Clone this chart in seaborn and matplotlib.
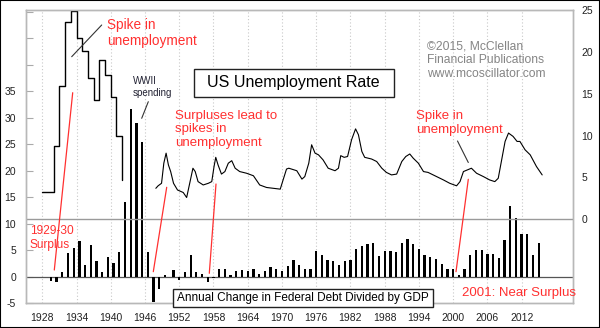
import matplotlib
matplotlib.use("Agg")
import matplotlib.pyplot as plt
from matplotlib.lines import Line2D
from matplotlib.patches import Rectangle
import pandas as pd
import seaborn as sns

# ---------------- data ----------------
# Annual change in federal debt / GDP (%), fiscal years 1929-1949
early_debt_years = list(range(1929, 1950))
early_debt = [-0.9, -1.0, 0.8, 4.5, 5.3, 6.7, 2.2, 6.0, 2.9, 0.8, 3.6, 2.5, 4.7,
              14.1, 31.7, 28.9, 25.3, 4.7, -4.8, -2.3, 0.2]
# calendar years 1951-2015
late_debt_years = list(range(1951, 2016))
late_debt = [1.25, -0.6, 0.8, 4.1, 0.8, 0.5, -1.1, -0.3, 1.5, 1.4, 0.25, 0.95,
             1.3, 1.1, 1.4, 0.4, 1.0, 1.75, 1.5, 1.0, 1.9, 3.1, 2.1, 1.5, 1.5,
             4.9, 4.1, 3.1, 2.9, 2.1, 2.9, 3.1, 5.1, 5.7, 6.1, 6.4, 3.9, 4.8,
             4.8, 4.6, 6.4, 7.1, 6.1, 5.1, 4.1, 3.6, 3.25, 2.3, 1.4, 1.5, 0.3,
             1.4, 4.0, 5.0, 5.0, 4.25, 4.25, 3.5, 6.9, 13.25, 11.1, 8.0, 8.0,
             4.1, 6.4]

# Annual unemployment rate 1928-1942 (%)
annual_rate_years = list(range(1928, 1943))
annual_rate = [3.2, 3.2, 8.7, 15.9, 23.6, 24.9, 21.7, 20.1, 16.9, 14.3, 19.0,
               17.2, 14.6, 9.9, 4.7]

# Monthly unemployment rate 1948-2015 (read at turning points)
monthly_dates = [1947.9, 1948.3, 1948.9, 1949.3, 1949.7, 1950.1, 1950.5, 1951.0,
                 1951.7, 1952.7, 1953.3, 1953.9, 1954.4, 1954.8, 1955.3, 1956.2,
                 1957.1, 1957.7, 1958.1, 1958.4, 1958.8, 1959.4, 1960.0, 1960.6,
                 1961.2, 1961.8, 1962.6, 1963.8, 1965.0, 1966.1, 1967.3, 1968.5,
                 1969.7, 1970.2, 1970.8, 1971.2, 1972.6, 1973.5, 1974.0, 1974.7,
                 1975.2, 1975.8, 1976.4, 1977.2, 1978.1, 1979.3, 1979.9, 1980.3,
                 1980.9, 1981.5, 1982.2, 1982.9, 1983.4, 1984.0, 1984.5, 1985.7,
                 1986.6, 1987.5, 1988.3, 1989.2, 1990.1, 1991.0, 1991.7, 1992.4,
                 1993.0, 1993.9, 1994.8, 1995.6, 1996.8, 1998.3, 1999.4, 2000.6,
                 2001.2, 2001.8, 2002.5, 2003.2, 2004.1, 2005.3, 2006.4, 2007.3,
                 2007.9, 2008.5, 2009.1, 2009.7, 2010.5, 2011.2, 2011.7, 2012.6,
                 2013.5, 2014.6, 2015.6]
monthly_rate = [3.7, 4.0, 4.3, 6.7, 7.9, 6.5, 5.7, 4.3,
                3.5, 3.2, 2.6, 4.5, 6.1, 5.7, 4.5, 4.1,
                4.3, 4.5, 6.3, 7.4, 6.5, 5.4, 5.7, 6.7,
                7.0, 6.1, 5.7, 5.5, 5.2, 4.1, 3.8, 3.7,
                3.6, 4.7, 6.0, 6.1, 5.8, 4.8, 5.1, 6.7,
                8.9, 7.9, 7.7, 7.1, 6.1, 5.8, 6.1, 7.6,
                7.4, 7.5, 9.5, 10.8, 10.1, 8.1, 7.4, 7.2,
                6.9, 6.1, 5.6, 5.3, 5.4, 6.9, 7.5, 7.8,
                7.3, 6.7, 5.7, 5.6, 5.2, 4.7, 4.3, 4.0,
                4.5, 5.7, 5.9, 6.1, 5.5, 5.1, 4.7, 4.5,
                4.9, 7.1, 9.3, 10.3, 9.9, 9.3, 9.3, 8.3,
                7.7, 6.3, 5.3]

x_tick_years = list(range(1928, 2013, 6))
left_tick_values = list(range(-5, 55, 5))
left_labelled_max = 35
right_tick_values = list(range(0, 30, 5))

# ---------------- style ----------------
sns.set_theme(style="white")
plt.rcParams['font.family'] = ['Liberation Sans', 'DejaVu Sans']

RED = '#ff3030'
W, H = 600, 328


def P(x, y):
    """pixel (from top-left) -> figure fraction"""
    return (x / W, 1 - y / H)


fig = plt.figure(figsize=(6, 3.28), dpi=100)
fig.patch.set_facecolor('white')
ax = fig.add_axes([26 / W, 25 / H, 547 / W, 293 / H])

# bars: fiscal-year data centred mid-year, later data at year
bars = pd.DataFrame({
    'year': [y + 0.5 for y in early_debt_years] + [float(y) for y in late_debt_years],
    'debt': early_debt + late_debt,
})
ax.set_axisbelow(True)
ax.xaxis.grid(True, color='#c8c8c8', linestyle=(0, (1, 2)), lw=0.8)
ax.yaxis.grid(False)
ax.axhline(0, color='#555555', lw=0.9, zorder=1)
sns.barplot(data=bars, x='year', y='debt', native_scale=True, width=0.4,
            color='black', saturation=1, errorbar=None, orient='x',
            linewidth=0, ax=ax, zorder=3)

ax2 = ax.twinx()
ax2.axhline(0, color='#9a9a9a', lw=1, zorder=1)
sns.lineplot(x=annual_rate_years, y=annual_rate, drawstyle='steps-post',
             color='black', lw=1.0, ax=ax2)
sns.lineplot(x=monthly_dates, y=monthly_rate, color='black', lw=0.8, ax=ax2)

ax.set_xlim(1925.15, 2021.0)
ax.set_ylim(-5, 50.3)
ax2.set_ylim(-10, 25)

ax.set_xticks(x_tick_years)
ax.set_xticklabels([str(y) for y in x_tick_years])
ax.set_yticks(left_tick_values)
ax.set_yticklabels([str(v) if v <= left_labelled_max else '' for v in left_tick_values])
ax2.set_yticks(right_tick_values)
ax2.set_yticklabels([str(v) for v in right_tick_values])
for a in (ax, ax2):
    a.set_xlabel('')
    a.set_ylabel('')
    for s in a.spines.values():
        s.set_color('#b8b8b8')
        s.set_linewidth(1)

ax.tick_params(axis='x', length=0, labelsize=7.5, labelcolor='#222222', pad=7)
ax.tick_params(axis='y', direction='in', length=5, width=0.8, color='#aaaaaa',
               labelsize=7.5, labelcolor='#222222', pad=7)
ax2.tick_params(axis='y', length=0, labelsize=7.5, labelcolor='#222222', pad=6)

# ---------------- annotations ----------------
def seg(p1, p2, color, lw=1.0):
    (x1, y1), (x2, y2) = P(*p1), P(*p2)
    fig.add_artist(Line2D([x1, x2], [y1, y2], transform=fig.transFigure,
                          color=color, lw=lw))


def box(x0, y0, x1, y1):
    fx0, fy1 = P(x0, y0)
    fx1, fy0 = P(x1, y1)
    fig.add_artist(Rectangle((fx0, fy0), fx1 - fx0, fy1 - fy0,
                             transform=fig.transFigure, facecolor='white',
                             edgecolor='#222222', lw=1, zorder=5))


fig.text(*P(107, 17.5), "Spike in\nunemployment", color=RED, fontsize=9.8,
         va='top', ha='left')
seg((101.7, 25), (71.7, 56.7), '#333333', 0.8)
seg((54.3, 270), (72.7, 92.7), RED, 0.9)

fig.text(*P(133, 76.5), "WWII\nspending", color='#222233', fontsize=7,
         va='top', ha='left')
seg((141.7, 118.3), (148.3, 101.7), '#333333', 0.8)

box(193.5, 69, 394, 96.7)
fig.text(*P(293.7, 83), "US Unemployment Rate", color='black', fontsize=11.5,
         va='center', ha='center', zorder=6)

fig.text(*P(175, 109.5), "Surpluses lead to\nspikes in\nunemployment",
         color=RED, fontsize=9.5, va='top', ha='left')
seg((153.3, 271.7), (166.7, 187.3), RED, 0.9)
seg((209.3, 273.3), (216, 184), RED, 0.9)

fig.text(*P(427, 40.5), "\u00a92015, McClellan\nFinancial Publications\nwww.mcoscillator.com",
         color='#858585', fontsize=8.7, va='top', ha='left')

fig.text(*P(416, 110.5), "Spike in\nunemployment", color=RED, fontsize=9.5,
         va='top', ha='left')
seg((457.5, 141), (468.3, 162.5), '#333333', 0.8)
seg((456, 271.7), (468.3, 179.3), RED, 0.9)

fig.text(*P(30, 225.5), "1929-30\nSurplus", color=RED, fontsize=8.6,
         va='top', ha='left')

fig.text(*P(462, 287), "2001: Near Surplus", color=RED, fontsize=9.5,
         va='top', ha='left')

box(172.7, 289.3, 433.3, 306.7)
fig.text(*P(303, 298), "Annual Change in Federal Debt Divided by GDP",
         color='black', fontsize=8.5, va='center', ha='center', zorder=6)

# outer frame
fig.add_artist(Rectangle((0, 0), 1, 1, transform=fig.transFigure, fill=False,
                         edgecolor='black', lw=1.5))

fig.savefig('out.png', dpi=100)
